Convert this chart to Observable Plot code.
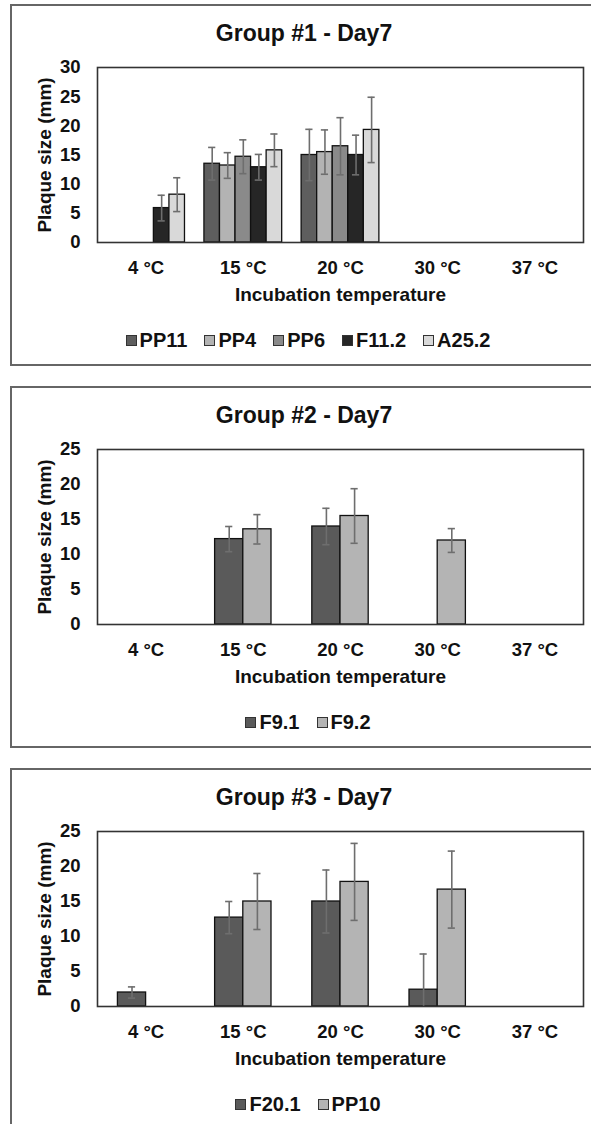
<!DOCTYPE html>
<html><head><meta charset="utf-8">
<script src="https://cdn.jsdelivr.net/npm/d3@7"></script>
<script src="https://cdn.jsdelivr.net/npm/@observablehq/plot@0.6"></script>
<style>
html,body{margin:0;padding:0;background:#fff;overflow:hidden;}
#page{position:relative;width:591px;height:1124px;overflow:hidden;font-family:"Liberation Sans",Arial,Helvetica,sans-serif;color:#111;}
.frame{position:absolute;left:10px;width:640px;border:2px solid #666;box-sizing:border-box;}
.chart{position:absolute;left:0;}
.title{position:absolute;left:0;width:608px;text-align:center;font-size:23px;font-weight:bold;line-height:23px;white-space:nowrap;}
.legend{position:absolute;left:0;width:616px;display:flex;justify-content:center;font-size:20px;font-weight:bold;line-height:20px;white-space:nowrap;}
.item{display:inline-flex;align-items:baseline;margin:0 8.5px;}
.sw{display:inline-block;width:11px;height:11px;box-sizing:border-box;border:1px solid #333;margin-right:3px;position:relative;top:-1px;}
</style>
</head><body>
<div id="page"></div>
<script>
// ---- data ----
const temps = ["4 °C", "15 °C", "20 °C", "30 °C", "37 °C"];
const xTitle = "Incubation temperature";
const yTitle = "Plaque size (mm)";

const g1Title = "Group #1 - Day7";
const g1Series = ["PP11", "PP4", "PP6", "F11.2", "A25.2"];
const g1Means = [
  [null, 13.5, 15.0, null, null],
  [null, 13.2, 15.5, null, null],
  [null, 14.7, 16.5, null, null],
  [5.9, 12.9, 15.0, null, null],
  [8.2, 15.8, 19.3, null, null]
];
const g1Errors = [
  [null, 2.8, 4.4, null, null],
  [null, 2.2, 3.8, null, null],
  [null, 2.9, 4.9, null, null],
  [2.2, 2.2, 3.4, null, null],
  [2.9, 2.8, 5.6, null, null]
];
const g1Ticks = [0, 5, 10, 15, 20, 25, 30];

const g2Title = "Group #2 - Day7";
const g2Series = ["F9.1", "F9.2"];
const g2Means = [
  [null, 12.2, 14.0, null, null],
  [null, 13.6, 15.5, 12.0, null]
];
const g2Errors = [
  [null, 1.8, 2.6, null, null],
  [null, 2.1, 3.9, 1.7, null]
];
const g2Ticks = [0, 5, 10, 15, 20, 25];

const g3Title = "Group #3 - Day7";
const g3Series = ["F20.1", "PP10"];
const g3Means = [
  [2.0, 12.7, 15.0, 2.4, null],
  [null, 15.0, 17.8, 16.7, null]
];
const g3Errors = [
  [0.8, 2.3, 4.5, 5.1, null],
  [null, 4.0, 5.5, 5.5, null]
];
const g3Ticks = [0, 5, 10, 15, 20, 25];

// ---- style ----
const g1Colors = ["#5e5e5e", "#b3b3b3", "#8a8a8a", "#262626", "#d9d9d9"];
const g23Colors = ["#5a5a5a", "#b4b4b4"];
const FONT = '"Liberation Sans", Arial, Helvetica, sans-serif';

const page = document.getElementById("page");

function panel({title, series, means, errors, colors, yTicks, groupWidth, plotTop}) {
  const n = series.length;
  const w = groupWidth / n;
  const rows = [];
  series.forEach((s, j) => {
    means[j].forEach((v, i) => {
      if (v == null) return;
      const x1 = i - groupWidth / 2 + j * w;
      rows.push({series: s, temp: temps[i], value: v, err: errors[j][i] || 0,
                 x1, x2: x1 + w, xc: x1 + w / 2, color: colors[j]});
    });
  });
  const cap = 0.037;
  const ymax = yTicks[yTicks.length - 1];
  const marginTop = 25, plotH = 175, marginBottom = 70;

  const chart = Plot.plot({
    width: 591,
    height: marginTop + plotH + marginBottom,
    marginLeft: 97, marginRight: 8, marginTop, marginBottom,
    x: {domain: [-0.5, temps.length - 0.5], ticks: d3.range(temps.length), tickFormat: i => temps[i],
        tickSize: 0, tickPadding: 18, label: null},
    y: {domain: [0, ymax], ticks: yTicks, tickSize: 0, tickPadding: 17, label: null},
    style: {fontFamily: FONT, fontSize: "18.5px", fontWeight: "bold", color: "#111", background: "transparent", overflow: "visible"},
    marks: [
      Plot.rectY(rows, {x1: "x1", x2: "x2", y1: 0, y2: "value", fill: d => d.color, stroke: "#111", strokeWidth: 1.3}),
      Plot.ruleX(rows, {x: "xc", y1: d => Math.max(0, d.value - d.err), y2: d => d.value + d.err, stroke: "#6e6e6e", strokeWidth: 1.6}),
      Plot.ruleY(rows, {y: d => d.value + d.err, x1: d => d.xc - cap, x2: d => d.xc + cap, stroke: "#6e6e6e", strokeWidth: 1.6}),
      Plot.ruleY(rows.filter(d => d.value - d.err > 0), {y: d => d.value - d.err, x1: d => d.xc - cap, x2: d => d.xc + cap, stroke: "#6e6e6e", strokeWidth: 1.6}),
      Plot.frame({stroke: "#333", strokeWidth: 1.6}),
      Plot.text([xTitle], {text: d => d, frameAnchor: "bottom", dy: 58, lineAnchor: "bottom",
                           fontSize: 19, fontWeight: "bold", fill: "#111"}),
      Plot.text([yTitle], {text: d => d, frameAnchor: "left", dx: -53, rotate: -90, textAnchor: "middle",
                           lineAnchor: "middle", fontSize: 19, fontWeight: "bold", fill: "#111"})
    ]
  });
  chart.classList.add("chart");
  chart.style.top = (plotTop - marginTop) + "px";
  page.appendChild(chart);

  const frame = document.createElement("div");
  frame.className = "frame";
  frame.style.top = (plotTop - 63) + "px";
  frame.style.height = "362px";
  page.appendChild(frame);

  const t = document.createElement("div");
  t.className = "title";
  t.textContent = title;
  t.style.top = (plotTop - 45.5) + "px";
  page.appendChild(t);

  const lg = document.createElement("div");
  lg.className = "legend";
  lg.style.top = (plotTop + plotH + 88) + "px";
  series.forEach((s, j) => {
    const it = document.createElement("span");
    it.className = "item";
    const sw = document.createElement("span");
    sw.className = "sw";
    sw.style.background = colors[j];
    it.appendChild(sw);
    it.appendChild(document.createTextNode(s));
    lg.appendChild(it);
  });
  page.appendChild(lg);
}

panel({title: g1Title, series: g1Series, means: g1Means, errors: g1Errors, colors: g1Colors,
       yTicks: g1Ticks, groupWidth: 0.8, plotTop: 67});
panel({title: g2Title, series: g2Series, means: g2Means, errors: g2Errors, colors: g23Colors,
       yTicks: g2Ticks, groupWidth: 0.58, plotTop: 449});
panel({title: g3Title, series: g3Series, means: g3Means, errors: g3Errors, colors: g23Colors,
       yTicks: g3Ticks, groupWidth: 0.58, plotTop: 831});
</script>
</body></html>
